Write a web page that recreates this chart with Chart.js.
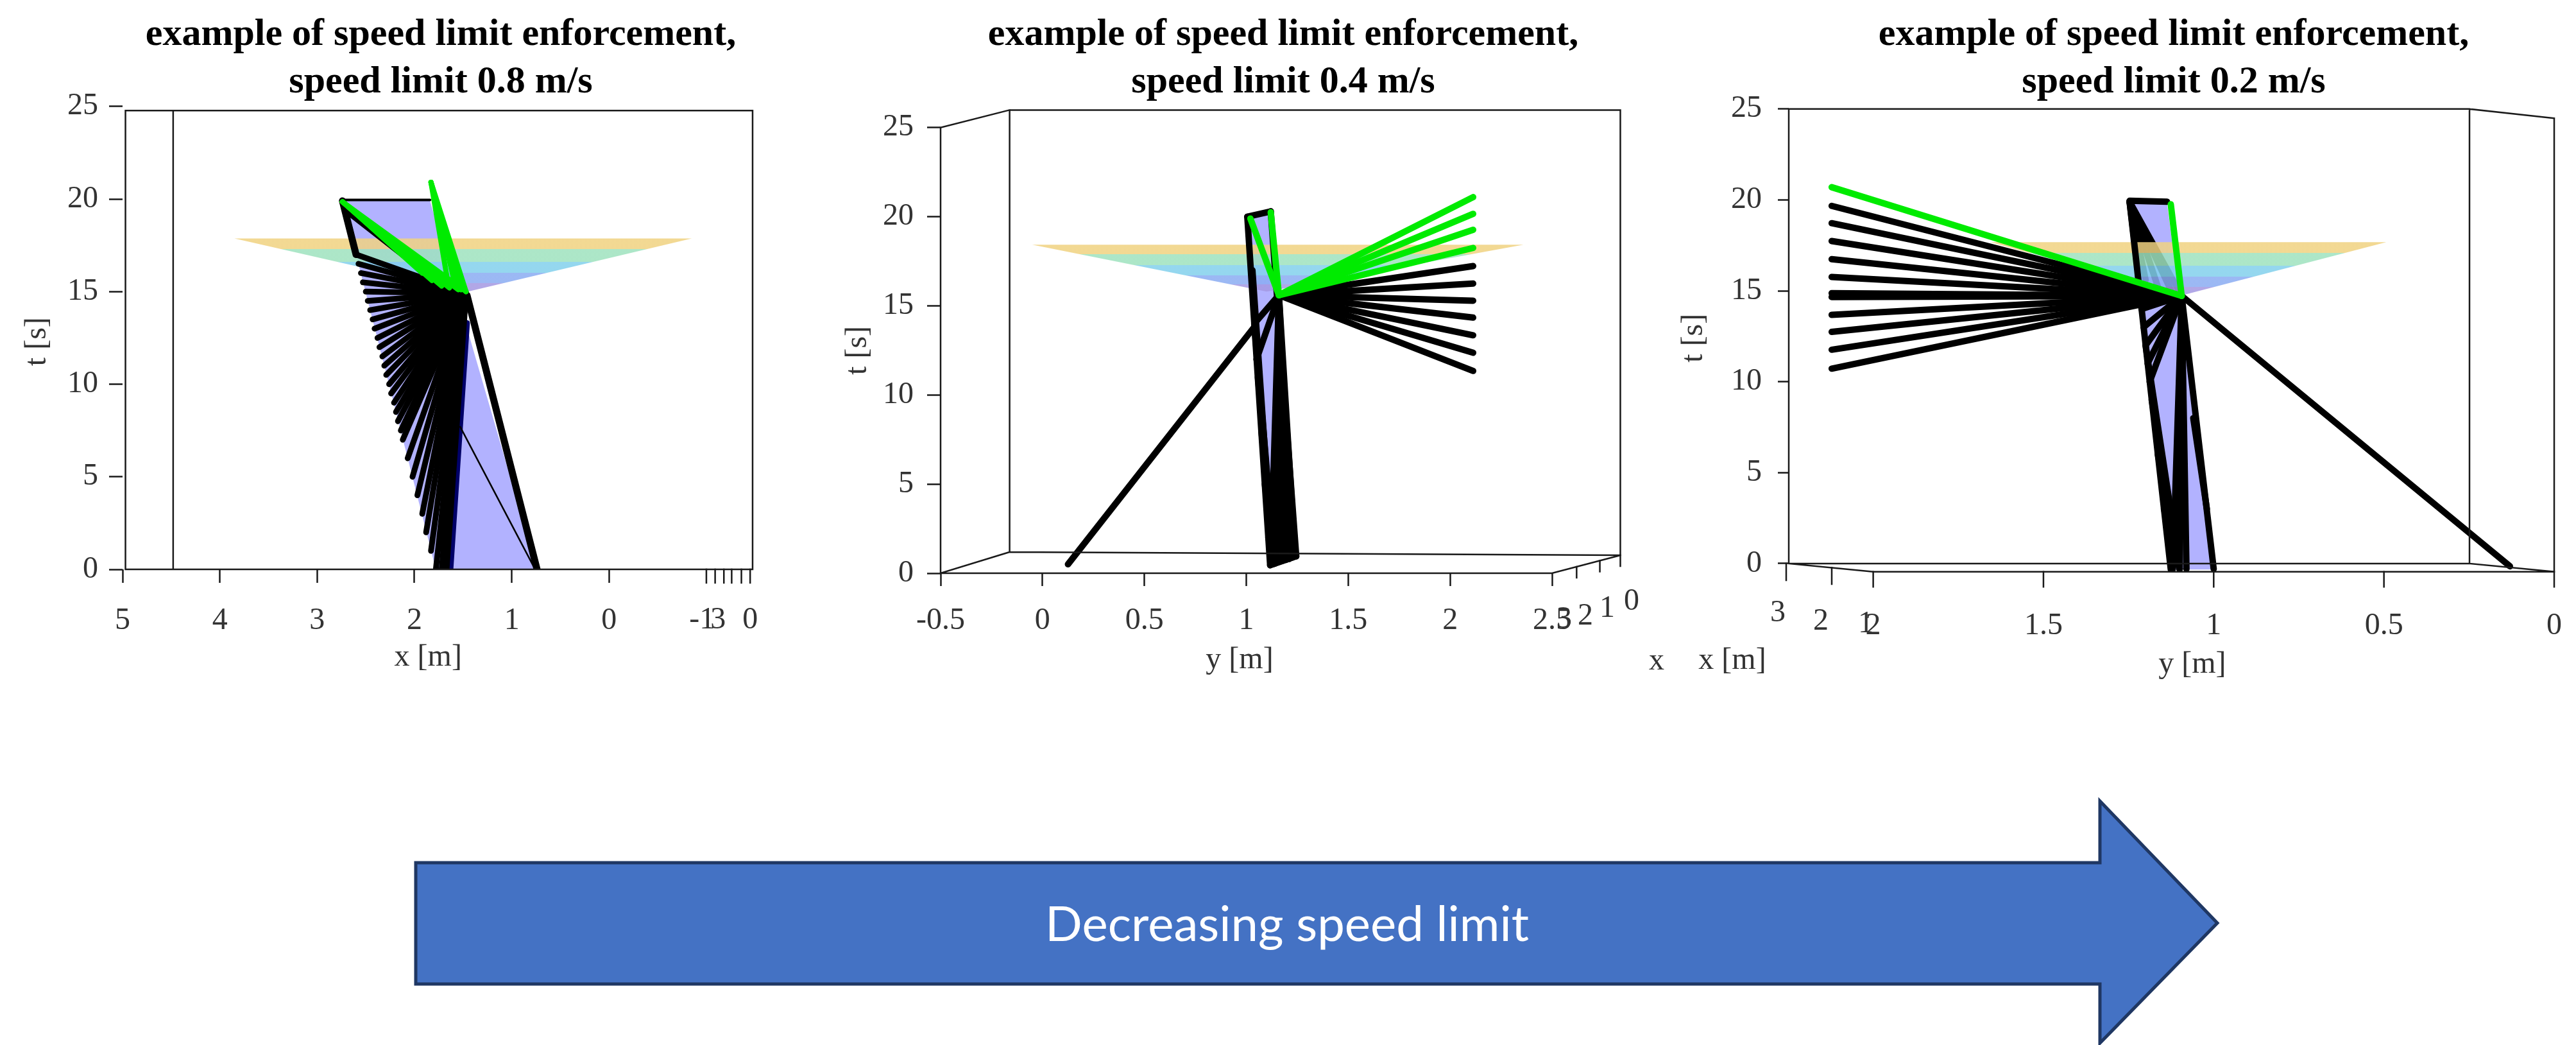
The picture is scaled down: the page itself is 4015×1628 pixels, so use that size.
<!DOCTYPE html>
<html>
<head>
<meta charset="utf-8">
<script src="https://cdn.jsdelivr.net/npm/chart.js"></script>
<style>
	html, body { margin: 0; padding: 0; background: #fff; width: 4015px; height: 1628px; overflow: hidden; }
	#page { position: relative; width: 4015px; height: 1628px; }
	canvas { position: absolute; top: 0; }
	#arrow { position: absolute; left: 0; top: 0; }
</style>
</head>
<body>
<div id="page">
	<canvas id="panel1" width="1374" height="1100" style="left:0px"></canvas>
	<canvas id="panel2" width="1400" height="1100" style="left:1300px"></canvas>
	<canvas id="panel3" width="1576" height="1100" style="left:2600px"></canvas>
	<svg id="arrow" width="4015" height="1628">
		<polygon points="648,1344 3273,1344 3273,1248 3456,1438 3273,1625 3273,1533 648,1533" fill="#4472C4" stroke="#1f3763" stroke-width="5"/>
		<text x="2006" y="1466" textLength="754" lengthAdjust="spacingAndGlyphs" text-anchor="middle" font-family="Lato, 'Open Sans', sans-serif" font-size="75" fill="#fff">Decreasing speed limit</text>
	</svg>
</div>
<script>
const SERIF = "'Liberation Serif', 'Times New Roman', serif";
const TITLE_LINE = 'example of speed limit enforcement,';
const speedLimits = ['0.8', '0.4', '0.2'];
const tTicks = [0, 5, 10, 15, 20, 25];

// left panel: x [m] against t [s]
const p1XTicks = [5, 4, 3, 2, 1, 0];
const p1Corridor = [[2.74, 19.9], [1.84, 19.9], [0.74, 0], [1.78, 0]];
const p1Cone = [[3.85, 17.87], [-0.85, 17.87], [1.45, 15.0]];
const p1Hub = [1.47, 14.9];
const p1BlackEnds = [
	[2.60, 17.0], [2.575, 16.5], [2.55, 16.0], [2.53, 15.5], [2.50, 15.0], [2.48, 14.5], [2.455, 14.0],
	[2.43, 13.5], [2.41, 13.0], [2.38, 12.5], [2.36, 12.0], [2.33, 11.5], [2.31, 11.0], [2.29, 10.5],
	[2.26, 10.0], [2.24, 9.5], [2.21, 9.0], [2.19, 8.5], [2.17, 8.0], [2.14, 7.5], [2.12, 7.0],
	[2.07, 6.0], [2.02, 5.0], [1.97, 4.0], [1.92, 3.0], [1.88, 2.0], [1.83, 1.0], [1.78, 0], [1.72, 0], [1.67, 0],
];
const p1GreenTipA = [2.74, 19.85];
const p1GreenEndsA = [[1.47, 15.0], [1.55, 15.1], [1.64, 15.2], [1.72, 15.3], [1.82, 15.6], [1.92, 16.0]];
const p1GreenTipB = [1.83, 20.9];
const p1GreenEndsB = [[1.47, 15.0], [1.52, 15.1], [1.58, 15.3], [1.66, 15.6]];
const p1Edges = [[[2.74, 19.9], [2.60, 17.0]], [[1.46, 14.8], [0.74, 0]], [[2.70, 19.4], [1.70, 15.3]]];
const p1TopEdge = [[2.74, 19.95], [1.84, 19.95]];
const p1Thin = [[1.53, 7.7], [0.77, 0.1]];
const p1Navy = [[1.63, 0], [1.46, 13.3]];
const p1DepthTicks = [-1.0, -1.09, -1.18, -1.26, -1.36, -1.45];
const p1DepthLabels = [['-1', -0.956], ['3', -1.12], ['0', -1.45]];

// middle panel: y [m] against t [s]
const p2YTicks = [-0.5, 0, 0.5, 1, 1.5, 2, 2.5];
const p2Corridor = [[1.005, 20.0], [1.12, 20.3], [1.245, 0.95], [1.117, 0.45]];
const p2Cone = [[-0.05, 18.43], [2.36, 18.43], [1.10, 15.8]];
const p2Hub = [1.16, 15.6];
const p2GreenEnds = [[2.113, 21.1], [2.113, 20.16], [2.113, 19.27], [2.113, 18.25], [1.02, 19.9], [1.12, 20.25]];
const p2BlackEnds = [
	[2.113, 17.23], [2.113, 16.25], [2.113, 15.29], [2.113, 14.34], [2.113, 13.35], [2.113, 12.37], [2.113, 11.35],
	[1.12, 0.5], [1.135, 0.55], [1.15, 0.6], [1.165, 0.65], [1.18, 0.7], [1.195, 0.75], [1.21, 0.8], [1.225, 0.88], [1.24, 0.95],
	[1.039, 14.0], [1.05, 12.0],
];
const p2Foot = [1.14, 0.55];
const p2FootEnds = [[1.039, 14.0], [1.057, 11.0], [1.074, 8.0], [1.091, 5.0], [1.108, 2.0]];
const p2Edges = [[[1.005, 20.0], [1.117, 0.45]], [[1.12, 20.3], [1.245, 0.95]], [[1.117, 0.45], [1.245, 0.95]], [[1.005, 20.0], [1.12, 20.3]], [[1.045, 13.9], [0.125, 0.5]], [[1.03, 17.0], [1.13, 0.5]]];
const p2DepthLabels = ['3', '2', '1', '0'];

// right panel: y [m] (reversed) against t [s]
const p3YTicks = [2, 1.5, 1, 0.5, 0];
const p3Corridor = [[1.247, 19.9], [1.137, 19.82], [0.996, -0.33], [1.126, -0.33]];
const p3Cone = [[1.655, 17.68], [0.493, 17.68], [1.094, 14.75]];
const p3Hub = [1.094, 14.72];
const p3GreenEnds = [[2.122, 20.7], [1.126, 19.76]];
const p3BlackEnds = [
	[2.122, 19.67], [2.122, 18.72], [2.122, 17.74], [2.122, 16.74], [2.122, 15.76], [2.122, 14.87], [2.122, 14.66],
	[2.122, 13.68], [2.122, 12.74], [2.122, 11.76], [2.122, 10.72], [0.13, -0.15],
	[1.12, -0.3], [1.10, -0.3], [1.08, -0.3], [1.0, -0.3],
	[1.212, 14.0], [1.206, 13.0], [1.20, 12.0], [1.194, 11.0], [1.188, 10.0],
];
const p3Foot = [1.10, -0.3];
const p3FootEnds = [[1.20, 12.0], [1.182, 9.0], [1.164, 6.0], [1.146, 3.0]];
const p3Corner = [1.247, 19.9];
const p3CornerEnds = [[1.094, 14.72], [1.12, 14.8], [1.16, 15.0], [1.20, 15.6], [1.225, 16.5]];
const p3Edges = [[[1.247, 19.9], [1.126, -0.33]], [[1.247, 19.95], [1.137, 19.9]], [[1.06, 8.0], [1.02, 3.0]]];
const p3DepthLabels = ['3', '2', '1'];

const GREEN = 'rgb(0,235,0)';
const BLACK = '#000';
const CORRIDOR_FILL = 'rgba(0,0,255,0.3)';
const coneColors = ['rgba(240,210,128,0.85)', 'rgba(158,226,190,0.85)', 'rgba(130,208,236,0.85)', 'rgba(138,172,242,0.85)', 'rgba(164,152,226,0.85)'];
const coneStops = [0, 0.2, 0.44, 0.65, 0.84, 1];

function pts(list) {
	return list.map(([x, y]) => ({ x, y }));
}

function segment(a, b, color, width) {
	return { data: pts([a, b]), borderColor: color, borderWidth: width, showLine: true, pointRadius: 0, fill: false, borderCapStyle: 'round', yAxisID: 'y' };
}

function fan(hub, ends, color, width) {
	return ends.map((end) => segment(hub, end, color, width));
}

function polygon(list, fillColor) {
	return { data: pts([...list, list[0]]), backgroundColor: fillColor, borderColor: 'rgba(0,0,0,0)', borderWidth: 0, fill: 'shape', showLine: true, pointRadius: 0, yAxisID: 'y' };
}

function cone(list) {
	const tTop = list[0][1];
	const tApex = list[2][1];
	const ds = polygon(list, coneColors[0]);
	ds.backgroundColor = (context) => {
		const chart = context.chart;
		const ys = chart.scales.y;
		if (!chart.chartArea || !ys) return coneColors[1];
		const y0 = ys.getPixelForValue(tTop);
		const y1 = ys.getPixelForValue(tApex);
		if (!Number.isFinite(y0) || !Number.isFinite(y1)) return coneColors[1];
		const g = chart.ctx.createLinearGradient(0, y0, 0, y1);
		coneColors.forEach((c, i) => {
			g.addColorStop(coneStops[i], c);
			g.addColorStop(Math.max(coneStops[i], coneStops[i + 1] - 0.001), c);
		});
		return g;
	};
	return ds;
}

function strokeLines(ctx, segs, width, color) {
	ctx.save();
	ctx.strokeStyle = color || '#1a1a1a';
	ctx.lineWidth = width || 2.5;
	ctx.lineCap = 'square';
	ctx.beginPath();
	segs.forEach(([x1, y1, x2, y2]) => {
		ctx.moveTo(x1, y1);
		ctx.lineTo(x2, y2);
	});
	ctx.stroke();
	ctx.restore();
}

function drawText(ctx, text, x, y, rotate) {
	ctx.save();
	ctx.font = '48px ' + SERIF;
	ctx.fillStyle = '#333';
	ctx.textAlign = 'center';
	ctx.textBaseline = 'middle';
	ctx.translate(x, y);
	if (rotate) ctx.rotate(rotate);
	ctx.fillText(text, 0, 0);
	ctx.restore();
}

function axis(min, max, reverse, values, size, tick, isX) {
	return {
		type: 'linear',
		min, max, reverse,
		afterBuildTicks(scale) { scale.ticks = values.map((v) => ({ value: v })); },
		afterFit(scale) { if (isX) scale.height = size; else scale.width = size; },
		border: { display: false },
		grid: { drawOnChartArea: false, drawTicks: tick.length > 0, tickLength: tick.length, tickWidth: 2.5, tickColor: '#1a1a1a' },
		ticks: { autoSkip: false, maxRotation: 0, padding: tick.padding, color: '#333', font: { family: SERIF, size: 48 }, callback: (v) => String(v) },
	};
}

// empty right-hand axis that only reserves room, so the full-width title stays centred on the box
function spacer(width) {
	return {
		type: 'linear',
		position: 'right',
		display: true,
		grid: { display: false },
		border: { display: false },
		ticks: { display: false },
		afterFit(scale) { scale.width = width; },
	};
}

function makePanel(id, cfg) {
	return new Chart(document.getElementById(id), {
		type: 'scatter',
		data: { datasets: cfg.datasets },
		options: {
			responsive: false,
			devicePixelRatio: 1,
			animation: false,
			events: [],
			layout: { padding: 0 },
			plugins: {
				legend: { display: false },
				tooltip: { enabled: false },
				title: {
					display: true,
					text: [TITLE_LINE, 'speed limit ' + cfg.limit + ' m/s'],
					color: '#000',
					font: { family: SERIF, size: 60, weight: 'bold', lineHeight: 1.24 },
					padding: { top: 17, bottom: cfg.titleGap },
				},
			},
			scales: { x: cfg.x, y: cfg.y, yR: spacer(cfg.padRight) },
		},
		plugins: [{ id: 'frame_' + id, afterDraw: cfg.decor }],
	});
}

// panel 1
makePanel('panel1', {
	limit: speedLimits[0],
	padRight: 201,
	titleGap: 0,
	x: axis(-1.475, 5, true, p1XTicks, 213, { length: 21, padding: 31 }, true),
	y: axis(0, 25, false, tTicks, 191, { length: 21, padding: 17 }, false),
	datasets: [
		...fan(p1GreenTipB, p1GreenEndsB, GREEN, 8),
		...fan(p1GreenTipA, p1GreenEndsA, GREEN, 8),
		...p1Edges.map(([a, b]) => segment(a, b, BLACK, 11)),
		segment(p1TopEdge[0], p1TopEdge[1], BLACK, 4),
		segment(p1Thin[0], p1Thin[1], BLACK, 2.5),
		...fan(p1Hub, p1BlackEnds, BLACK, 9),
		cone(p1Cone),
		segment(p1Navy[0], p1Navy[1], '#000068', 9),
		polygon(p1Corridor, CORRIDOR_FILL),
	],
	decor(chart) {
		const { ctx, chartArea: a, scales: { x, y } } = chart;
		const left = x.getPixelForValue(4.97);
		const top = y.getPixelForValue(24.78);
		const back = x.getPixelForValue(4.48);
		strokeLines(ctx, [
			[left, top, a.right, top], [a.right, top, a.right, a.bottom],
			[left, a.bottom, a.right, a.bottom], [left, top, left, a.bottom],
			[back, top, back, a.bottom],
		]);
		strokeLines(ctx, p1DepthTicks.map((v) => {
			const px = x.getPixelForValue(v);
			return [px, a.bottom, px, a.bottom + 21];
		}));
		p1DepthLabels.forEach(([txt, v]) => drawText(ctx, txt, x.getPixelForValue(v), a.bottom + 79));
		drawText(ctx, 'x [m]', x.getPixelForValue(1.86), a.bottom + 137);
		drawText(ctx, 't [s]', a.left - 133, y.getPixelForValue(12.3), -Math.PI / 2);
	},
});

// panel 2
makePanel('panel2', {
	limit: speedLimits[1],
	padRight: 281,
	titleGap: 33,
	x: axis(-0.5, 2.5, false, p2YTicks, 207, { length: 20, padding: 26 }, true),
	y: axis(0, 25, false, tTicks, 166, { length: 21, padding: 21 }, false),
	datasets: [
		...fan(p2Hub, p2GreenEnds, GREEN, 10),
		...p2Edges.map(([a, b]) => segment(a, b, BLACK, 10)),
		...fan(p2Hub, p2BlackEnds, BLACK, 10),
		...fan(p2Foot, p2FootEnds, BLACK, 10),
		cone(p2Cone),
		polygon(p2Corridor, CORRIDOR_FILL),
	],
	decor(chart) {
		const { ctx, chartArea: a, scales: { x } } = chart;
		const blt = [a.left + 107.6, a.top - 27.4];
		const blb = [a.left + 107.6, a.bottom - 33];
		const brb = [a.right + 106.5, a.bottom - 28];
		const brt = [a.right + 106.5, a.top - 27.4];
		strokeLines(ctx, [
			[a.left, a.top, a.left, a.bottom], [a.left, a.bottom, a.right, a.bottom],
			[a.left, a.top, ...blt], [a.left, a.bottom, ...blb],
			[...blt, ...brt], [...blt, ...blb], [...blb, ...brb], [...brt, ...brb],
			[a.right, a.bottom, ...brb],
		]);
		strokeLines(ctx, [0.36, 0.70, 1.0].map((f) => {
			const px = a.right + (brb[0] - a.right) * f;
			const py = a.bottom + (brb[1] - a.bottom) * f;
			return [px, py, px, py + 17];
		}));
		const offs = [[19, 72], [52, 67], [86, 55], [124, 44]];
		p2DepthLabels.forEach((txt, i) => drawText(ctx, txt, a.right + offs[i][0], a.bottom + offs[i][1]));
		drawText(ctx, 'x', a.right + 163, a.bottom + 137);
		drawText(ctx, 'y [m]', x.getPixelForValue(0.967), a.bottom + 135);
		drawText(ctx, 't [s]', a.left - 129, (a.top + a.bottom) / 2, -Math.PI / 2);
	},
});

// panel 3
makePanel('panel3', {
	limit: speedLimits[2],
	padRight: 195,
	titleGap: 4,
	x: axis(0, 2.248, true, p3YTicks, 209.3, { length: 0, padding: 56 }, true),
	y: axis(-0.45, 25, false, tTicks, 188, { length: 17, padding: 25 }, false),
	datasets: [
		...fan(p3Hub, p3GreenEnds, GREEN, 10),
		...p3Edges.map(([a, b]) => segment(a, b, BLACK, 10)),
		...fan(p3Hub, p3BlackEnds, BLACK, 10),
		...fan(p3Foot, p3FootEnds, BLACK, 10),
		cone(p3Cone),
		...fan(p3Corner, p3CornerEnds, BLACK, 10),
		polygon(p3Corridor, CORRIDOR_FILL),
	],
	decor(chart) {
		const { ctx, chartArea: a, scales: { x, y } } = chart;
		const p0 = y.getPixelForValue(0);
		const brx = a.right - 132;
		const flx = a.left + 131.7;
		strokeLines(ctx, [
			[a.left, a.top, a.left, p0], [a.left, a.top, brx, a.top], [brx, a.top, brx, p0],
			[a.left, p0, brx, p0], [brx, a.top, a.right, a.top + 14.5], [a.right, a.top + 14.5, a.right, a.bottom],
			[flx, a.bottom, a.right, a.bottom], [a.left, p0, flx, a.bottom], [brx, p0, a.right, a.bottom],
		]);
		strokeLines(ctx, p3YTicks.map((v) => {
			const px = x.getPixelForValue(v);
			return [px, a.bottom, px, a.bottom + 23.5];
		}));
		strokeLines(ctx, [[a.left - 4, p0, a.left - 4, p0 + 26], [a.left + 67, p0 + 6.4, a.left + 67, p0 + 32]]);
		const offs = [[-17, 65], [50, 78], [120, 82]];
		p3DepthLabels.forEach((txt, i) => drawText(ctx, txt, a.left + offs[i][0], a.bottom + offs[i][1]));
		drawText(ctx, 'x [m]', a.left - 88, a.bottom + 139);
		drawText(ctx, 'y [m]', x.getPixelForValue(1.063), a.bottom + 145);
		drawText(ctx, 't [s]', a.left - 148, y.getPixelForValue(12.4), -Math.PI / 2);
	},
});
</script>
</body>
</html>
